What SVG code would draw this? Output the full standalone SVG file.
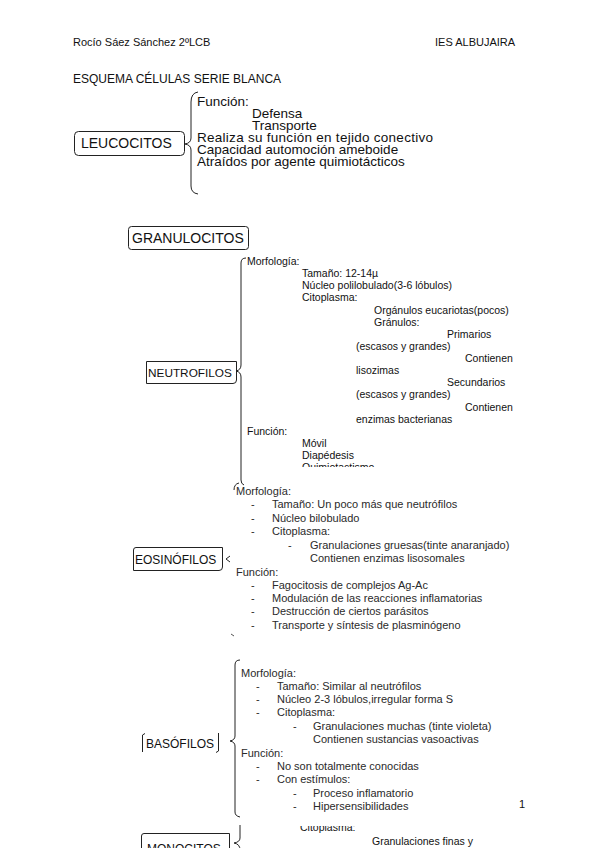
<svg xmlns="http://www.w3.org/2000/svg" width="599" height="848" viewBox="0 0 599 848">
<defs>
<style>
text{font-family:"Liberation Sans",Arial,sans-serif;fill:#111;}
.h{font-size:11px;}
.t{font-size:12px;}
.l{font-size:13.5px;}
.n{font-size:10.5px;}
.s{font-size:11px;fill:#2a2a2a;}
.box{fill:none;stroke:#222;stroke-width:1;}
.br{fill:none;stroke:#222;stroke-width:1;}
.brg{fill:none;stroke:#555;stroke-width:1;}
</style>
<clipPath id="cq"><rect x="290" y="460" width="200" height="7"/></clipPath>
<clipPath id="cc"><rect x="290" y="826" width="100" height="10"/></clipPath>
</defs>
<rect width="599" height="848" fill="#fff"/>

<g id="header">
<text class="h" x="73" y="46">Rocío Sáez Sánchez 2ºLCB</text>
<text class="h" x="435" y="46">IES ALBUJAIRA</text>
<text class="t" x="73" y="83">ESQUEMA CÉLULAS SERIE BLANCA</text>
<text class="h" x="519" y="808">1</text>
</g>

<g id="connectors">
<path class="br" d="M198,92 Q191,93 191,102 L191,138 Q191,143 185,144 Q191,145 191,150 L191,186 Q191,193 198,194"/>
<path class="br" d="M246,258 Q241,258 241,263 L241,365 Q241,370 236,371 Q241,372 241,377 L241,480 Q241,484 244,485"/>
<path class="br" d="M239,483 Q234,484 234,490"/>
<path class="br" d="M226,559 L230,556 M226,559 L230,562"/>
<path class="brg" d="M231,634 L234,636"/>
<path class="br" d="M240,660 Q235,660 235,665 L235,736 Q235,740 230,741 Q235,742 235,746 L235,812 Q235,816 240,817"/>
<path class="br" d="M240,825 L240,838 Q240,842 234,843 Q240,844 240,850"/>
</g>

<g id="leucocitos">
<rect class="box" x="74.5" y="131.5" width="110" height="24" rx="4"/>
<text class="l" x="81" y="148" style="font-size:14px">LEUCOCITOS</text>
<text class="l" x="197" y="106">Función:</text>
<text class="l" x="252" y="118">Defensa</text>
<text class="l" x="252" y="130">Transporte</text>
<text class="l" x="197" y="142" textLength="236">Realiza su función en tejido conectivo</text>
<text class="l" x="197" y="154">Capacidad automoción ameboide</text>
<text class="l" x="197" y="166">Atraídos por agente quimiotácticos</text>
</g>

<g id="granulocitos">
<rect class="box" x="128.5" y="226.5" width="120" height="23" rx="3"/>
<text class="l" x="132" y="243" style="font-size:14px">GRANULOCITOS</text>
</g>

<g id="neutrofilos">
<path class="box" d="M146.5,361.5 L236.5,361.5 L236.5,380 Q236.5,383.5 233,383.5 L146.5,383.5 Z"/>
<text class="l" x="148" y="377" style="font-size:11.8px">NEUTROFILOS</text>
<text class="n" x="247" y="265">Morfología:</text>
<text class="n" x="302" y="277">Tamaño: 12-14µ</text>
<text class="n" x="302" y="289">Núcleo polilobulado(3-6 lóbulos)</text>
<text class="n" x="302" y="301">Citoplasma:</text>
<text class="n" x="374" y="314">Orgánulos eucariotas(pocos)</text>
<text class="n" x="374" y="326">Gránulos:</text>
<text class="n" x="447" y="338">Primarios</text>
<text class="n" x="356" y="350">(escasos y grandes)</text>
<text class="n" x="465" y="362">Contienen</text>
<text class="n" x="356" y="374">lisozimas</text>
<text class="n" x="447" y="386">Secundarios</text>
<text class="n" x="356" y="398">(escasos y grandes)</text>
<text class="n" x="465" y="411">Contienen</text>
<text class="n" x="356" y="423">enzimas bacterianas</text>
<text class="n" x="247" y="435">Función:</text>
<text class="n" x="302" y="447">Móvil</text>
<text class="n" x="302" y="459">Diapédesis</text>
<text class="n" x="302" y="471" clip-path="url(#cq)">Quimiotactismo</text>
</g>

<g id="eosinofilos">
<path class="box" d="M136,547.5 L222.5,547.5 L222.5,567 Q222.5,570.5 219,570.5 L133.5,570.5 L133.5,550 Q133.5,547.5 136,547.5 Z"/>
<text class="s" x="135" y="564" style="font-size:12px;fill:#111">EOSINÓFILOS</text>
<text class="s" x="236" y="495">Morfología:</text>
<text class="s" x="251" y="508">-</text><text class="s" x="272" y="508">Tamaño: Un poco más que neutrófilos</text>
<text class="s" x="251" y="522">-</text><text class="s" x="272" y="522">Núcleo bilobulado</text>
<text class="s" x="251" y="535">-</text><text class="s" x="272" y="535">Citoplasma:</text>
<text class="s" x="288" y="549">-</text><text class="s" x="310" y="549">Granulaciones gruesas(tinte anaranjado)</text>
<text class="s" x="310" y="562">Contienen enzimas  lisosomales</text>
<text class="s" x="236" y="576">Función:</text>
<text class="s" x="251" y="589">-</text><text class="s" x="272" y="589">Fagocitosis de complejos Ag-Ac</text>
<text class="s" x="251" y="602">-</text><text class="s" x="272" y="602">Modulación de las reacciones inflamatorias</text>
<text class="s" x="251" y="615">-</text><text class="s" x="272" y="615">Destrucción de ciertos parásitos</text>
<text class="s" x="251" y="629">-</text><text class="s" x="272" y="629">Transporte y síntesis de plasminógeno</text>
</g>

<g id="basofilos">
<path class="box" d="M145,733.5 L142.5,735 L142.5,752"/>
<path class="box" d="M216,752.5 L218.5,751 L218.5,733"/>
<text class="s" x="146" y="748" style="font-size:12px;fill:#111">BASÓFILOS</text>
<text class="s" x="241" y="677">Morfología:</text>
<text class="s" x="256" y="690">-</text><text class="s" x="277" y="690">Tamaño: Similar al neutrófilos</text>
<text class="s" x="256" y="703">-</text><text class="s" x="277" y="703">Núcleo 2-3 lóbulos,irregular forma S</text>
<text class="s" x="256" y="716">-</text><text class="s" x="277" y="716">Citoplasma:</text>
<text class="s" x="293" y="730">-</text><text class="s" x="313" y="730">Granulaciones muchas (tinte violeta)</text>
<text class="s" x="313" y="743">Contienen sustancias vasoactivas</text>
<text class="s" x="241" y="757">Función:</text>
<text class="s" x="256" y="770">-</text><text class="s" x="277" y="770">No son totalmente conocidas</text>
<text class="s" x="256" y="783">-</text><text class="s" x="277" y="783">Con estímulos:</text>
<text class="s" x="293" y="797">-</text><text class="s" x="313" y="797">Proceso inflamatorio</text>
<text class="s" x="293" y="810">-</text><text class="s" x="313" y="810">Hipersensibilidades</text>
</g>

<g id="monocitos">
<path class="box" d="M141.5,850 L141.5,836 Q141.5,833.5 144,833.5 L229.5,833.5 L229.5,850"/>
<text class="l" x="147" y="853" style="font-size:12px">MONOCITOS</text>
<text class="n" x="300" y="831" clip-path="url(#cc)">Citoplasma:</text>
<text class="n" x="372" y="845">Granulaciones finas y</text>
</g>
</svg>
